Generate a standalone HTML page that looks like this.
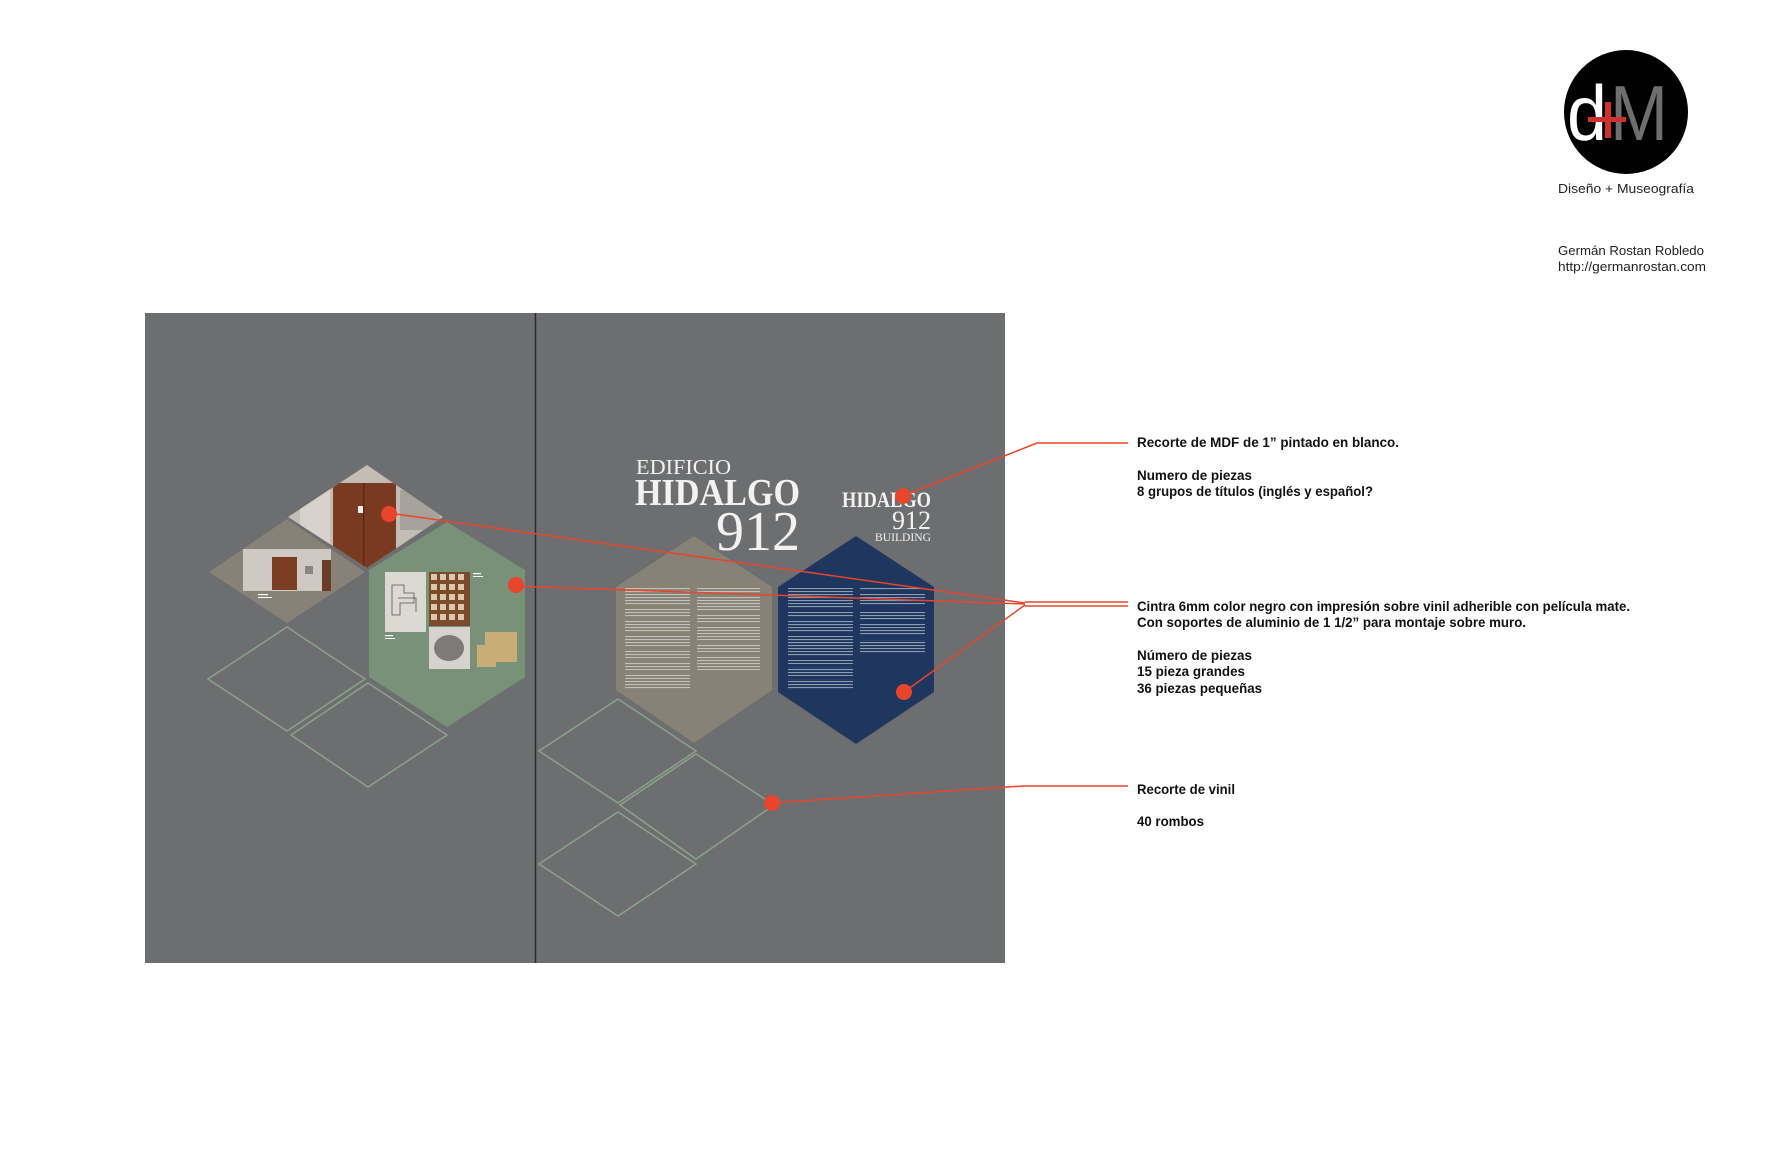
<!DOCTYPE html>
<html><head><meta charset="utf-8"><style>
html,body{margin:0;padding:0;background:#fff;width:1781px;height:1154px;overflow:hidden}
svg{display:block}
</style></head><body>
<svg width="1781" height="1154" viewBox="0 0 1781 1154" xmlns="http://www.w3.org/2000/svg">
<defs>
<pattern id="txt" width="40" height="3" patternUnits="userSpaceOnUse">
<rect x="0" y="0" width="40" height="1.1" fill="#fff" opacity="0.5"/>
</pattern>
<clipPath id="doorclip"><polygon points="367,465 443,517 367,568 288,517"/></clipPath>
</defs>
<rect width="1781" height="1154" fill="#fff"/>
<rect x="145" y="313" width="860" height="650" fill="#6d6e70"/>
<line x1="535.5" y1="313" x2="535.5" y2="963" stroke="#2a2a2a" stroke-width="1.5"/>

<g fill="none" stroke="#8aa08a" stroke-width="1.6">
<polygon points="287,627 365,679 287,731 208,679"/>
<polygon points="368,683 447,735 368,787 291,735"/>
<polygon points="618,699 696,751 618,803 539,751"/>
<polygon points="696,754 774,805 696,859 620,805"/>
<polygon points="618,812 696,864 618,916 539,864"/>
</g>

<polygon points="287,519 365,572 287,623 209,572" fill="#878278"/>
<rect x="243" y="549" width="88" height="42" fill="#cfc9c4"/>
<rect x="272" y="557" width="25" height="33" fill="#7b3d24"/>
<rect x="322" y="560" width="9" height="31" fill="#6a3a2a"/>
<rect x="305" y="566" width="8" height="8" fill="#8a8580"/>
<rect x="258" y="594" width="10" height="1.2" fill="#fff"/><rect x="258" y="597" width="14" height="1" fill="#fff"/>

<g clip-path="url(#doorclip)">
<rect x="280" y="460" width="170" height="115" fill="#c4bdb6"/>
<rect x="300" y="470" width="30" height="100" fill="#d8d2cc"/>
<rect x="333" y="483" width="63" height="86" fill="#7a3a22"/>
<rect x="363" y="483" width="1.5" height="86" fill="#5a2a18"/>
<rect x="358" y="506" width="5" height="7" fill="#eee"/>
<rect x="400" y="490" width="40" height="40" fill="#a8a29c"/>
</g>

<polygon points="447,522 525,570 525,677 447,727 369,677 369,570" fill="#7a9179"/>
<rect x="385" y="572" width="41" height="60" fill="#dcd8d2"/>
<g stroke="#555" stroke-width="0.8" fill="none"><path d="M392 585h12v8h10v10h-14v12h-8z"/><path d="M398 598h18v14"/></g>
<rect x="429" y="572" width="41" height="54" fill="#7b4a2c"/>
<g fill="#d8c9a8">
<rect x="431" y="574" width="6" height="6"/><rect x="440" y="574" width="6" height="6"/><rect x="449" y="574" width="6" height="6"/><rect x="458" y="574" width="6" height="6"/>
<rect x="431" y="584" width="6" height="6"/><rect x="440" y="584" width="6" height="6"/><rect x="449" y="584" width="6" height="6"/><rect x="458" y="584" width="6" height="6"/>
<rect x="431" y="594" width="6" height="6"/><rect x="440" y="594" width="6" height="6"/><rect x="449" y="594" width="6" height="6"/><rect x="458" y="594" width="6" height="6"/>
<rect x="431" y="604" width="6" height="6"/><rect x="440" y="604" width="6" height="6"/><rect x="449" y="604" width="6" height="6"/><rect x="458" y="604" width="6" height="6"/>
<rect x="431" y="614" width="6" height="6"/><rect x="440" y="614" width="6" height="6"/><rect x="449" y="614" width="6" height="6"/><rect x="458" y="614" width="6" height="6"/>
</g>
<rect x="429" y="627" width="41" height="42" fill="#d6d3cf"/>
<ellipse cx="449" cy="648" rx="15" ry="13" fill="#555" opacity="0.7"/>
<polygon points="485,632 517,632 517,662 496,662 496,667 477,667 477,645 485,645" fill="#c9ad76"/>
<rect x="385" y="635" width="8" height="1.2" fill="#fff"/><rect x="385" y="638" width="10" height="1" fill="#fff"/>
<rect x="473" y="573" width="8" height="1.2" fill="#fff"/><rect x="473" y="576" width="10" height="1" fill="#fff"/>

<polygon points="694,536 772,587 772,690 694,743 616,690 616,587" fill="#878276"/>
<polygon points="856,536 934,587 934,692 856,744 778,692 778,587" fill="#1f375e"/>

<g fill="url(#txt)">
<rect x="625" y="587" width="65" height="18"/><rect x="625" y="608" width="65" height="9"/><rect x="625" y="620" width="65" height="12"/><rect x="625" y="635" width="65" height="11"/><rect x="625" y="649" width="65" height="9"/><rect x="625" y="661" width="65" height="9"/><rect x="625" y="673" width="65" height="6"/><rect x="625" y="681" width="65" height="9"/>
<rect x="697" y="587" width="63" height="7"/><rect x="697" y="597" width="63" height="13"/><rect x="697" y="614" width="63" height="9"/><rect x="697" y="627" width="63" height="13"/><rect x="697" y="643" width="63" height="9"/><rect x="697" y="655" width="63" height="15"/>
<rect x="788" y="587" width="65" height="21"/><rect x="788" y="611" width="65" height="6"/><rect x="788" y="620" width="65" height="12"/><rect x="788" y="635" width="65" height="21"/><rect x="788" y="659" width="65" height="5"/><rect x="788" y="667" width="65" height="9"/><rect x="788" y="679" width="65" height="10"/>
<rect x="860" y="587" width="65" height="4"/><rect x="860" y="594" width="65" height="12"/><rect x="860" y="611" width="65" height="10"/><rect x="860" y="624" width="65" height="12"/><rect x="860" y="640" width="65" height="13"/>
</g>

<g font-family="'Liberation Serif', serif" fill="#f2f2f2">
<text x="636" y="474" font-size="21" textLength="95" lengthAdjust="spacingAndGlyphs">EDIFICIO</text>
<text x="635" y="505" font-size="38" font-weight="bold" textLength="165" lengthAdjust="spacingAndGlyphs">HIDALGO</text>
<text x="800" y="550" font-size="56" text-anchor="end">912</text>
<text x="842" y="507" font-size="22" font-weight="bold" textLength="89" lengthAdjust="spacingAndGlyphs">HIDALGO</text>
<text x="931" y="529" font-size="26" text-anchor="end">912</text>
<text x="931" y="541" font-size="12" text-anchor="end" textLength="56" lengthAdjust="spacingAndGlyphs">BUILDING</text>
</g>

<g stroke="#e8452c" stroke-width="1.5" fill="none">
<polyline points="903,496 1037,443 1128,443"/>
<polyline points="389,513 1025,603"/>
<polyline points="513,586 1025,604"/>
<polyline points="904,692 1025,605"/>
<line x1="1025" y1="602" x2="1128" y2="602"/>
<line x1="1025" y1="606" x2="1128" y2="606"/>
<polyline points="771,803 1023,786 1128,786"/>
</g>
<g fill="#e8452c">
<circle cx="389" cy="514" r="8"/><circle cx="516" cy="585" r="8"/><circle cx="903" cy="496" r="8"/><circle cx="904" cy="692" r="8"/><circle cx="772" cy="803" r="8"/>
</g>

<g font-family="'Liberation Sans', sans-serif" font-weight="bold" font-size="13.5" fill="#111">
<text x="1137" y="447" textLength="262" lengthAdjust="spacingAndGlyphs">Recorte de MDF de 1” pintado en blanco.</text>
<text x="1137" y="480" textLength="115" lengthAdjust="spacingAndGlyphs">Numero de piezas</text>
<text x="1137" y="496" textLength="236" lengthAdjust="spacingAndGlyphs">8 grupos de títulos (inglés y español?</text>
<text x="1137" y="611" textLength="493" lengthAdjust="spacingAndGlyphs">Cintra 6mm color negro con impresión sobre vinil adherible con película mate.</text>
<text x="1137" y="627" textLength="389" lengthAdjust="spacingAndGlyphs">Con soportes de aluminio de 1 1/2” para montaje sobre muro.</text>
<text x="1137" y="660" textLength="115" lengthAdjust="spacingAndGlyphs">Número de piezas</text>
<text x="1137" y="676" textLength="108" lengthAdjust="spacingAndGlyphs">15 pieza grandes</text>
<text x="1137" y="693" textLength="125" lengthAdjust="spacingAndGlyphs">36 piezas pequeñas</text>
<text x="1137" y="794" textLength="98" lengthAdjust="spacingAndGlyphs">Recorte de vinil</text>
<text x="1137" y="826" textLength="67" lengthAdjust="spacingAndGlyphs">40 rombos</text>
</g>

<circle cx="1626" cy="112" r="62" fill="#000"/>
<g font-family="'Liberation Sans', sans-serif">
<text x="1567" y="140" font-size="78" fill="#fff" textLength="40" lengthAdjust="spacingAndGlyphs">d</text>
<text x="1610" y="140" font-size="78" fill="#6e6e6e" textLength="58" lengthAdjust="spacingAndGlyphs">M</text>
</g>
<rect x="1605" y="102" width="6" height="36" fill="#d0312d"/>
<rect x="1588" y="117" width="38" height="5" fill="#d0312d"/>
<g font-family="'Liberation Sans', sans-serif" font-size="13" fill="#222">
<text x="1558" y="193" textLength="136" lengthAdjust="spacingAndGlyphs">Diseño + Museografía</text>
<text x="1558" y="255" textLength="146" lengthAdjust="spacingAndGlyphs">Germán Rostan Robledo</text>
<text x="1558" y="271" textLength="148" lengthAdjust="spacingAndGlyphs">http://germanrostan.com</text>
</g>
</svg>
</body></html>
